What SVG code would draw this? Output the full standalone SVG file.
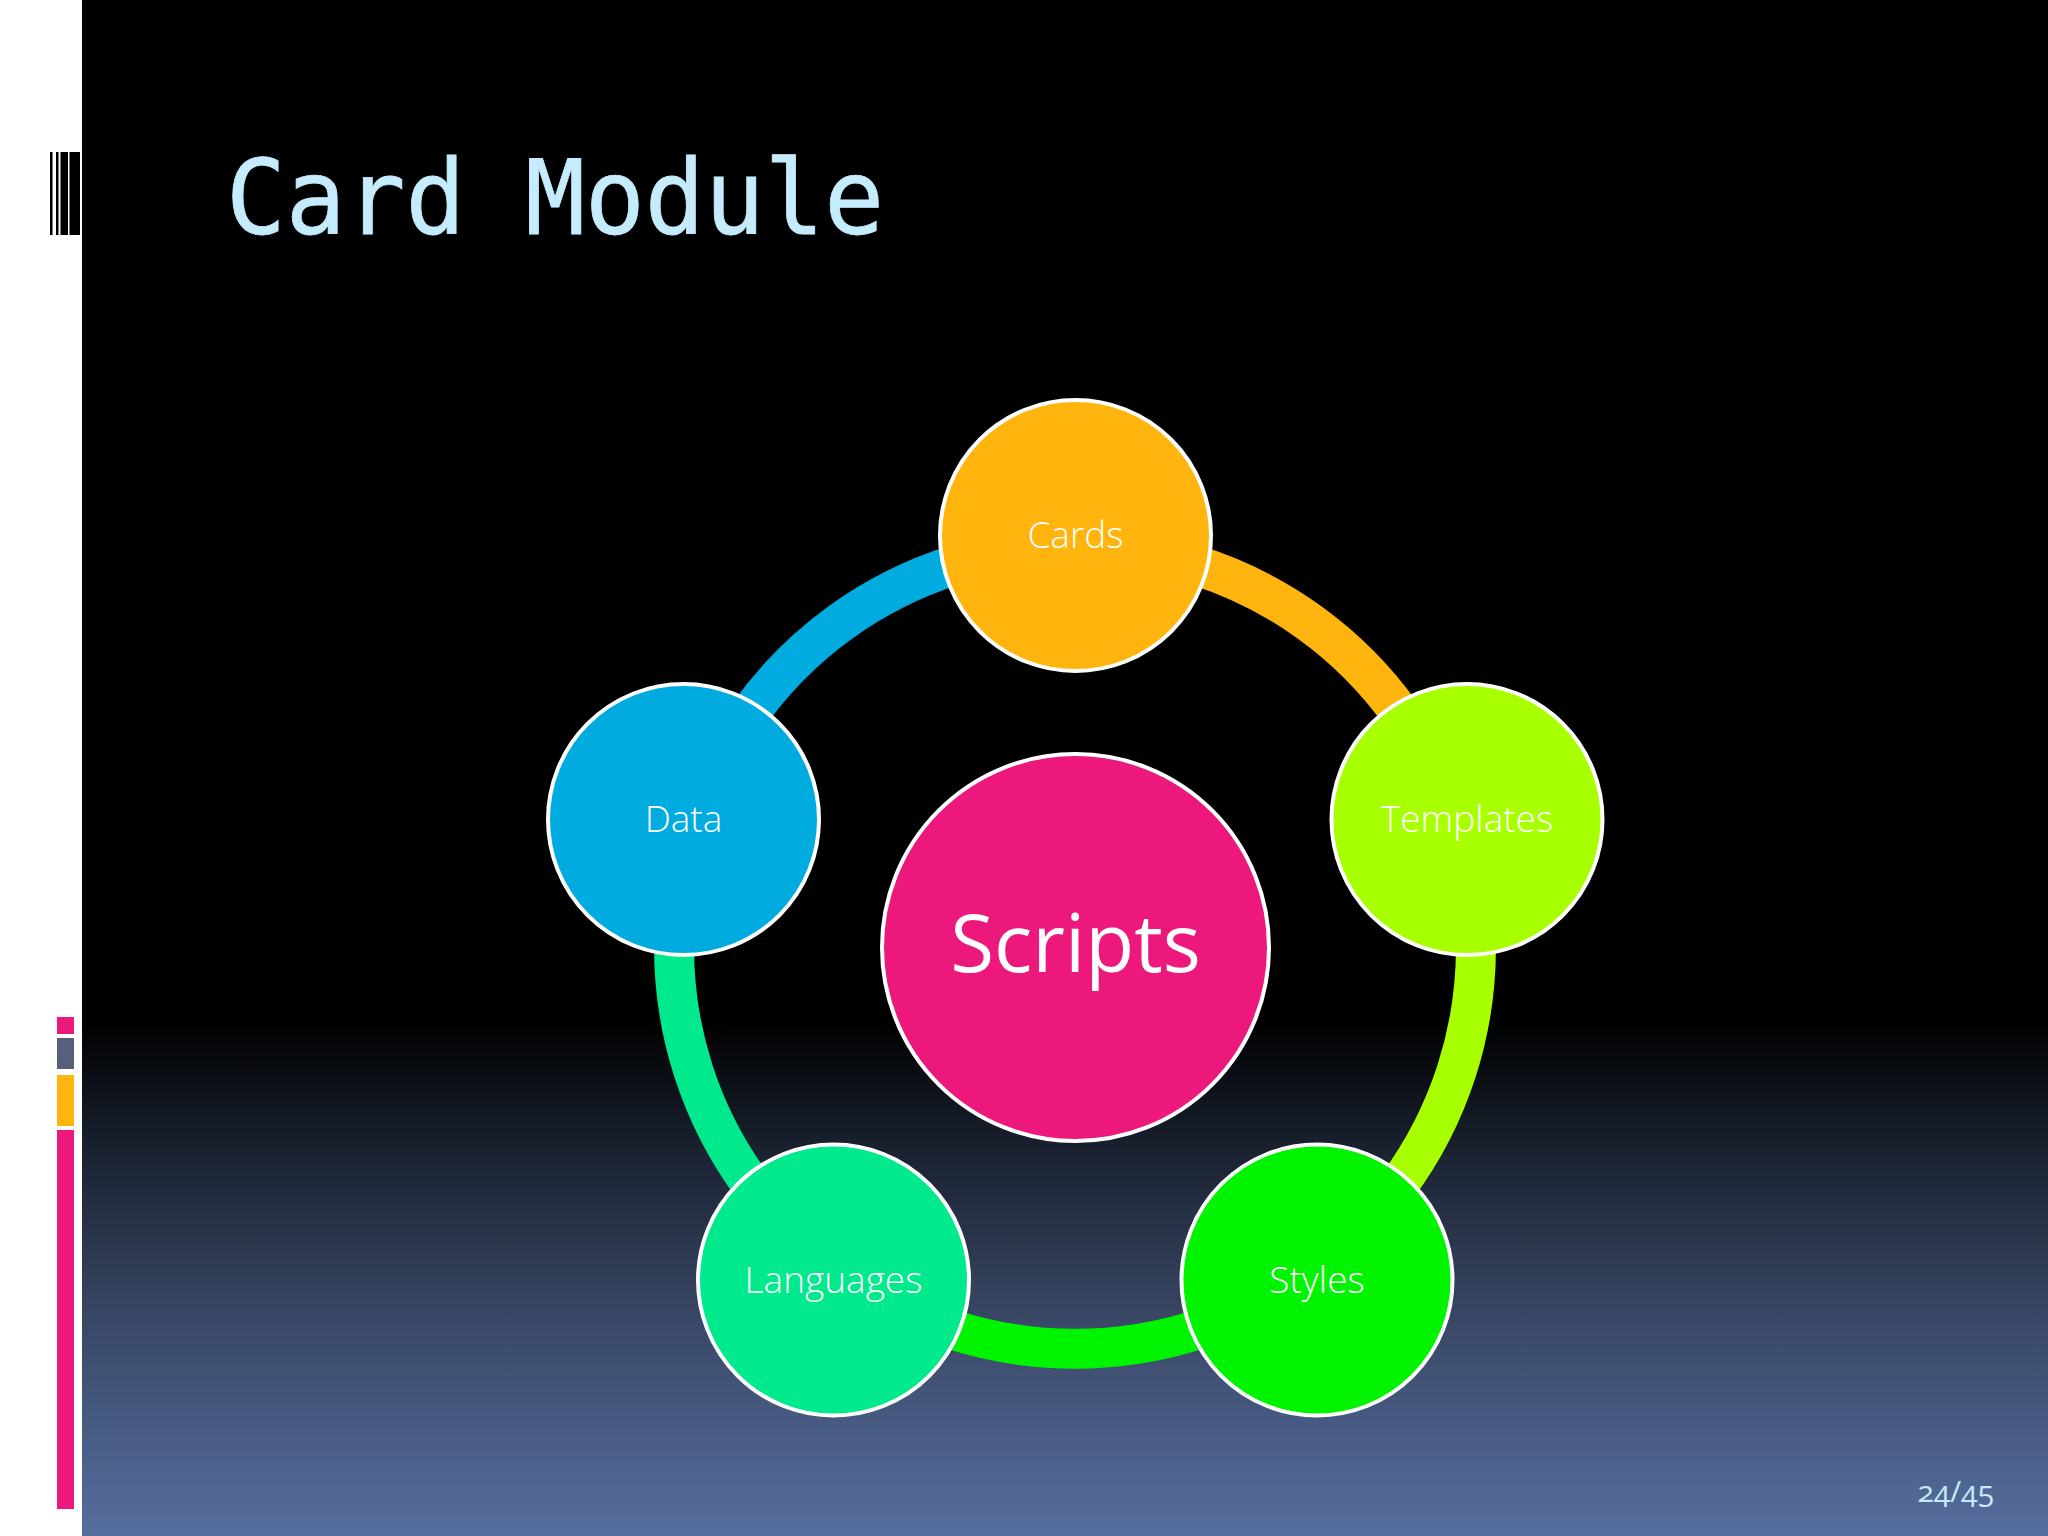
<svg xmlns="http://www.w3.org/2000/svg" width="2048" height="1536" viewBox="0 0 2048 1536">
<defs>
<linearGradient id="bg" x1="0" y1="0" x2="0" y2="1">
<stop offset="0" stop-color="#000000"/><stop offset="0.665" stop-color="#000000"/><stop offset="0.75" stop-color="#1a2231"/><stop offset="0.85" stop-color="#374562"/><stop offset="1" stop-color="#566e9f"/>
</linearGradient>
</defs>
<style>
.lbl{font-family:"Open Sans","Noto Sans",sans-serif;font-weight:300;fill:#fff;text-anchor:middle;font-size:37px}
.node{stroke:#fff;stroke-width:4}
.arc{fill:none;stroke-width:40}
</style>
<rect width="2048" height="1536" fill="#fff"/>
<rect x="82" width="1966" height="1536" fill="url(#bg)"/>
<g id="barcode" fill="#000">
<rect x="50" y="152" width="2.5" height="83"/><rect x="56" y="152" width="2.5" height="83"/><rect x="60.5" y="152" width="7.5" height="83"/><rect x="69.5" y="152" width="10.5" height="83"/>
</g>
<g id="sidebar">
<rect x="57" y="1017" width="17" height="17" fill="#ec187c"/>
<rect x="57" y="1038" width="17" height="31" fill="#56607a"/>
<rect x="57" y="1075" width="17" height="51" fill="#ffb40e"/>
<rect x="57" y="1130" width="17" height="379" fill="#ec187c"/>
</g>
<text id="title" transform="translate(226 234) scale(1 1.035)" font-family="'DejaVu Sans Mono',monospace" font-size="99.4" fill="#c4ecfd" stroke="#c4ecfd" stroke-width="0.8">Card Module</text>
<g id="connectors">
<path class="arc" stroke="#ffb40e" d="M1075 546.5A401 401 0 0 1 1456 823"/>
<path class="arc" stroke="#a8ff00" d="M1456 823A401 401 0 0 1 1311 1272"/>
<path class="arc" stroke="#00f400" d="M1311 1272A401 401 0 0 1 839 1272"/>
<path class="arc" stroke="#00e98c" d="M839 1272A401 401 0 0 1 694 823"/>
<path class="arc" stroke="#00acdf" d="M694 823A401 401 0 0 1 1075 546.5"/>
</g>
<g id="cards"><circle class="node" cx="1075.5" cy="535.5" r="135.5" fill="#ffb40e"/><text class="lbl" x="1075.5" y="548">Cards</text></g>
<g id="templates"><circle class="node" cx="1467" cy="819.5" r="135.5" fill="#a8ff00"/><text class="lbl" x="1467" y="832">Templates</text></g>
<g id="styles"><circle class="node" cx="1317" cy="1280" r="135.5" fill="#00f400"/><text class="lbl" x="1317" y="1293">Styles</text></g>
<g id="languages"><circle class="node" cx="833.5" cy="1280" r="135.5" fill="#00e98c"/><text class="lbl" x="833.5" y="1293">Languages</text></g>
<g id="data"><circle class="node" cx="683.5" cy="819.5" r="135.5" fill="#00acdf"/><text class="lbl" x="683.5" y="832">Data</text></g>
<g id="scripts"><circle class="node" cx="1075.5" cy="947.5" r="193.5" fill="#ec187c"/><text class="lbl" x="1075.5" y="972" style="font-size:80px;font-weight:400">Scripts</text></g>
<text id="page" x="1994" y="1502" text-anchor="end" font-family="'Open Sans','Noto Sans',sans-serif" font-weight="400" font-size="30" fill="#c9e8fb" style="font-variant-numeric:oldstyle-nums">24/45</text>
</svg>
